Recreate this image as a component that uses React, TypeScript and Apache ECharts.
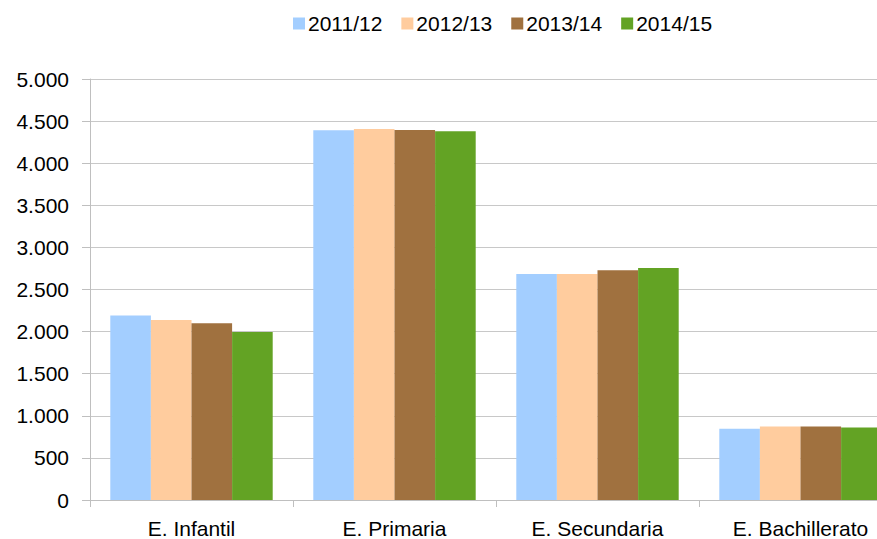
import React, { useEffect, useRef } from "react";
import * as echarts from "echarts";

const categories = ["E. Infantil", "E. Primaria", "E. Secundaria", "E. Bachillerato"];
const seriesNames = ["2011/12", "2012/13", "2013/14", "2014/15"];
const s2011 = [2190, 4390, 2685, 845];
const s2012 = [2138, 4405, 2685, 872];
const s2013 = [2099, 4395, 2728, 872];
const s2014 = [1996, 4379, 2756, 861];
const colors = ["#A3CEFF", "#FFCC9E", "#A0713F", "#63A324"];

export default function App() {
  const ref = useRef<HTMLDivElement>(null);
  useEffect(() => {
    document.body.style.margin = "0";
    document.body.style.overflow = "hidden";
    if (!ref.current) return;
    const chart = echarts.init(ref.current, null, { renderer: "svg" });
    const data = [s2011, s2012, s2013, s2014];
    const font = "'Liberation Sans', Arial, sans-serif";
    chart.setOption({
      animation: false,
      backgroundColor: "#ffffff",
      color: colors,
      legend: {
        left: 288,
        top: 8,
        icon: "rect",
        itemWidth: 12,
        itemHeight: 12,
        itemGap: 19,
        textStyle: { fontFamily: font, fontSize: 21, color: "#000", padding: [0, 0, 0, -2] },
        data: seriesNames,
      },
      grid: { left: 90, width: 812, top: 79, height: 424, containLabel: false },
      xAxis: {
        type: "category",
        data: categories,
        axisLine: { lineStyle: { color: "#BFBFBF", width: 1 } },
        axisTick: { show: true, length: 7, alignWithLabel: false, lineStyle: { color: "#BFBFBF" } },
        axisLabel: { fontFamily: font, fontSize: 21, color: "#000", margin: 18, interval: 0 },
      },
      yAxis: {
        type: "value",
        min: 0,
        max: 5000,
        interval: 500,
        axisLine: { show: true, lineStyle: { color: "#BFBFBF", width: 1 } },
        axisTick: { show: true, length: 8, lineStyle: { color: "#BFBFBF" } },
        splitLine: { show: true, lineStyle: { color: "#C8C8C8", width: 1 } },
        axisLabel: {
          fontFamily: font,
          fontSize: 21,
          color: "#000",
          margin: 21,
          formatter: (v: number) => v.toLocaleString("de-DE"),
        },
      },
      series: seriesNames.map((name, i) => ({
        name,
        type: "bar",
        data: data[i],
        barGap: "0%",
        barCategoryGap: "20%",
        itemStyle: { color: colors[i] },
      })),
    });
    return () => chart.dispose();
  }, []);
  return (
    <div style={{ width: 877, height: 539, overflow: "hidden" }}>
      <div ref={ref} style={{ width: 910, height: 539 }} />
    </div>
  );
}
